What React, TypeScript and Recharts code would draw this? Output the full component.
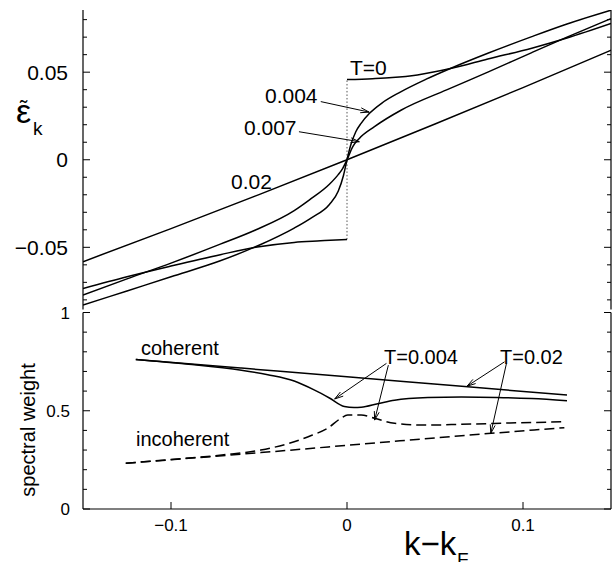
import React from 'react';
import { LineChart, Line, XAxis, YAxis, ReferenceLine } from 'recharts';

// ---------- axis ticks ----------
const xTicks = [-0.1, 0, 0.1];
const xTickLabels = ['\u22120.1', '0', '0.1'];
const topYTicks = [-0.08, -0.07, -0.06, -0.05, -0.04, -0.03, -0.02, -0.01, 0, 0.01, 0.02, 0.03, 0.04, 0.05, 0.06, 0.07, 0.08];
const topYMajor = [-0.05, 0, 0.05];
const topYLabels = ['\u22120.05', '0', '0.05'];
const botYTicks = [0, 0.1, 0.2, 0.3, 0.4, 0.5, 0.6, 0.7, 0.8, 0.9, 1];
const botYMajor = [0, 0.5, 1];
const botYLabels = ['0', '0.5', '1'];

// ---------- top panel: renormalised dispersion ----------
const t0LeftX = [-0.15, -0.125, -0.1, -0.072, -0.052, -0.03, -0.015, -0.0063, 0];
const t0LeftY = [-0.0735, -0.0668, -0.0607, -0.0542, -0.05, -0.0472, -0.0463, -0.0458, -0.0455];
const t0RightX = [0, 0.0145, 0.0257, 0.04, 0.0594, 0.08, 0.105, 0.125, 0.15];
const t0RightY = [0.0458, 0.0463, 0.0469, 0.0484, 0.0522, 0.0575, 0.0637, 0.0695, 0.0778];
const t004X = [-0.15, -0.125, -0.1, -0.072, -0.05, -0.03, -0.02, -0.01, -0.005, -0.002, 0, 0.002, 0.005, 0.008, 0.0128, 0.02, 0.03, 0.045, 0.0594, 0.08, 0.105, 0.125, 0.15];
const t004Y = [-0.083, -0.0749, -0.0668, -0.0577, -0.0488, -0.039, -0.033, -0.0255, -0.018, -0.009, 0, 0.008, 0.016, 0.0208, 0.0265, 0.0325, 0.0385, 0.046, 0.0524, 0.0608, 0.0703, 0.0775, 0.0854];
const t007X = [-0.15, -0.125, -0.1, -0.072, -0.052, -0.03, -0.0215, -0.01, -0.005, -0.0025, 0, 0.0033, 0.007, 0.0156, 0.0309, 0.0566, 0.08, 0.105, 0.125, 0.15];
const t007Y = [-0.0773, -0.068, -0.059, -0.0482, -0.0401, -0.029, -0.023, -0.014, -0.0085, -0.005, 0, 0.0075, 0.0122, 0.0189, 0.0284, 0.0399, 0.05, 0.0612, 0.07, 0.0806];
const t02X = [-0.15, -0.1, -0.05, 0, 0.05, 0.1, 0.15];
const t02Y = [-0.0582, -0.0393, -0.0199, 0, 0.0204, 0.0412, 0.0625];

// ---------- bottom panel: spectral weights ----------
const cohT02X = [-0.12, -0.06, 0, 0.06, 0.125];
const cohT02Y = [0.761, 0.717, 0.673, 0.628, 0.58];
const cohT004X = [-0.12, -0.09, -0.06, -0.045, -0.03, -0.0187, -0.01, -0.0015, 0.004, 0.008, 0.0175, 0.027, 0.046, 0.065, 0.085, 0.105, 0.125];
const cohT004Y = [0.761, 0.737, 0.706, 0.683, 0.651, 0.606, 0.565, 0.522, 0.517, 0.518, 0.536, 0.554, 0.567, 0.57, 0.568, 0.562, 0.551];
const incT004X = [-0.1257, -0.1, -0.07, -0.049, -0.03, -0.02, -0.011, -0.0034, 0.0004, 0.008, 0.0156, 0.027, 0.046, 0.065, 0.09, 0.1235];
const incT004Y = [0.233, 0.252, 0.276, 0.3, 0.342, 0.375, 0.411, 0.462, 0.478, 0.478, 0.462, 0.436, 0.427, 0.431, 0.437, 0.444];
const incT02X = [-0.1257, -0.049, 0.008, 0.065, 0.1235];
const incT02Y = [0.233, 0.287, 0.33, 0.373, 0.414];

const zip = (xs: number[], ys: number[]) => xs.map((x, i) => ({ x, y: ys[i] }));

const FONT = '"Liberation Sans", Arial, Helvetica, sans-serif';

type Orient = 'left' | 'right' | 'top' | 'bottom';
const makeTick = (orient: Orient, margin: number, majors: number[], labels: string[] | null, fs: number) =>
  (props: any) => {
    const { x, y, payload } = props;
    const v = payload.value;
    const mi = majors.findIndex((m) => Math.abs(m - v) < 1e-9);
    const len = mi >= 0 ? 7 : 4;
    let line: React.ReactNode = null;
    let text: React.ReactNode = null;
    if (orient === 'left') {
      const ax = x + margin;
      line = <line x1={ax} y1={y} x2={ax + len} y2={y} stroke="#000" strokeWidth={1} />;
      if (labels && mi >= 0)
        text = <text x={x} y={y + fs * 0.36} textAnchor="end" fontSize={fs} fontFamily={FONT} fill="#000">{labels[mi]}</text>;
    } else if (orient === 'right') {
      const ax = x - margin;
      line = <line x1={ax} y1={y} x2={ax - len} y2={y} stroke="#000" strokeWidth={1} />;
    } else if (orient === 'bottom') {
      const ay = y - margin;
      line = <line x1={x} y1={ay} x2={x} y2={ay - len} stroke="#000" strokeWidth={1} />;
      if (labels && mi >= 0)
        text = <text x={x} y={y} textAnchor="middle" fontSize={fs} fontFamily={FONT} fill="#000">{labels[mi]}</text>;
    } else {
      const ay = y + margin;
      line = <line x1={x} y1={ay} x2={x} y2={ay + len} stroke="#000" strokeWidth={1} />;
    }
    return <g>{line}{text}</g>;
  };

const Arrow = (props: any) => {
  const { x1, y1, x2, y2 } = props;
  const ang = Math.atan2(y2 - y1, x2 - x1);
  const L = 9;
  const a = 0.28;
  const p1 = `${x2 - L * Math.cos(ang - a)},${y2 - L * Math.sin(ang - a)}`;
  const p2 = `${x2 - L * Math.cos(ang + a)},${y2 - L * Math.sin(ang + a)}`;
  return (
    <g>
      <line x1={x1} y1={y1} x2={x2} y2={y2} stroke="#000" strokeWidth={1} />
      <polyline points={`${p1} ${x2},${y2} ${p2}`} fill="none" stroke="#000" strokeWidth={1} />
    </g>
  );
};

const axisLine = { stroke: '#000', strokeWidth: 1.2 };
const XDOM: [number, number] = [-0.15, 0.15];
const TOPDOM: [number, number] = [-0.0855, 0.0855];
const BOTDOM: [number, number] = [0, 1];

const lineProps = {
  type: 'monotone' as const,
  dataKey: 'y',
  stroke: '#000',
  strokeWidth: 1.5,
  dot: false,
  activeDot: false,
  isAnimationActive: false,
};

export default function App() {
  return (
    <div style={{ position: 'absolute', left: 0, top: 0, width: 612, height: 562, background: '#fff', fontFamily: FONT, overflow: 'hidden' }}>
      <div style={{ position: 'absolute', left: 0, top: 0 }}>
        <LineChart width={612} height={310} margin={{ top: 10, right: 0, bottom: 0.5, left: 0 }}>
          <XAxis xAxisId={0} type="number" dataKey="x" domain={XDOM} ticks={xTicks} allowDataOverflow height={0}
            axisLine={axisLine} tickLine={false} tickSize={0} tickMargin={0} interval={0}
            tick={makeTick('bottom', 0, xTicks, null, 17)} />
          <XAxis xAxisId="top" orientation="top" type="number" dataKey="x" domain={XDOM} ticks={xTicks} allowDataOverflow height={0}
            axisLine={axisLine} tickLine={false} tickSize={0} tickMargin={0} interval={0}
            tick={makeTick('top', 0, xTicks, null, 17)} />
          <YAxis yAxisId={0} type="number" domain={TOPDOM} ticks={topYTicks} allowDataOverflow width={83}
            axisLine={axisLine} tickLine={false} tickSize={0} tickMargin={15} interval={0}
            tick={makeTick('left', 15, topYMajor, topYLabels, 21)} />
          <YAxis yAxisId="r" orientation="right" type="number" domain={TOPDOM} ticks={topYTicks} allowDataOverflow width={1}
            axisLine={axisLine} tickLine={false} tickSize={0} tickMargin={0} interval={0}
            tick={makeTick('right', 0, topYMajor, null, 21)} />
          <ReferenceLine segment={[{ x: 0, y: -0.0455 }, { x: 0, y: 0.0458 }]} stroke="#555" strokeWidth={1} strokeDasharray="1.5 2" />
          <Line {...lineProps} data={zip(t02X, t02Y)} />
          <Line {...lineProps} data={zip(t0LeftX, t0LeftY)} />
          <Line {...lineProps} data={zip(t0RightX, t0RightY)} />
          <Line {...lineProps} data={zip(t004X, t004Y)} />
          <Line {...lineProps} data={zip(t007X, t007Y)} />
          <ReferenceLine segment={[{ x: -0.0149, y: 0.0332 }, { x: 0.0126, y: 0.0272 }]} shape={Arrow} />
          <ReferenceLine segment={[{ x: -0.0273, y: 0.016 }, { x: 0.007, y: 0.0103 }]} shape={Arrow} />
        </LineChart>
      </div>
      <div style={{ position: 'absolute', left: 0, top: 300 }}>
        <LineChart width={612} height={262} margin={{ top: 12.5, right: 0, bottom: 0, left: 0 }}>
          <XAxis xAxisId={0} type="number" dataKey="x" domain={XDOM} ticks={xTicks} allowDataOverflow height={53}
            axisLine={axisLine} tickLine={false} tickSize={0} tickMargin={21.5} interval={0}
            tick={makeTick('bottom', 21.5, xTicks, xTickLabels, 17)} />
          <XAxis xAxisId="top" orientation="top" type="number" dataKey="x" domain={XDOM} ticks={xTicks} allowDataOverflow height={0}
            axisLine={axisLine} tickLine={false} tickSize={0} tickMargin={0} interval={0}
            tick={makeTick('top', 0, xTicks, null, 17)} />
          <YAxis yAxisId={0} type="number" domain={BOTDOM} ticks={botYTicks} allowDataOverflow width={83}
            axisLine={axisLine} tickLine={false} tickSize={0} tickMargin={13} interval={0}
            tick={makeTick('left', 13, botYMajor, botYLabels, 17)} />
          <YAxis yAxisId="r" orientation="right" type="number" domain={BOTDOM} ticks={botYTicks} allowDataOverflow width={1}
            axisLine={axisLine} tickLine={false} tickSize={0} tickMargin={0} interval={0}
            tick={makeTick('right', 0, botYMajor, null, 17)} />
          <Line {...lineProps} data={zip(cohT02X, cohT02Y)} />
          <Line {...lineProps} data={zip(cohT004X, cohT004Y)} />
          <Line {...lineProps} data={zip(incT004X, incT004Y)} strokeDasharray="10 5" />
          <Line {...lineProps} data={zip(incT02X, incT02Y)} strokeDasharray="10 5" />
          <ReferenceLine segment={[{ x: 0.0224, y: 0.741 }, { x: -0.007, y: 0.56 }]} shape={Arrow} />
          <ReferenceLine segment={[{ x: 0.0235, y: 0.732 }, { x: 0.0157, y: 0.4525 }]} shape={Arrow} />
          <ReferenceLine segment={[{ x: 0.0895, y: 0.749 }, { x: 0.0682, y: 0.625 }]} shape={Arrow} />
          <ReferenceLine segment={[{ x: 0.0906, y: 0.741 }, { x: 0.0817, y: 0.385 }]} shape={Arrow} />
        </LineChart>
      </div>
      <svg width={612} height={562} style={{ position: 'absolute', left: 0, top: 0, pointerEvents: 'none' }} fontFamily={FONT}>
        {/* top panel annotations */}
        <text x={350} y={75} fontSize={21}>T=0</text>
        <text x={265} y={103} fontSize={21}>0.004</text>
        <text x={244} y={135} fontSize={21}>0.007</text>
        <text x={231} y={189} fontSize={21}>0.02</text>
        {/* y label top */}
        <text x={16} y={123} fontSize={34}>{'\u03b5'}</text>
        <text x={20} y={116} fontSize={22}>{'\u02dc'}</text>
        <text x={33} y={135} fontSize={19}>k</text>
        {/* bottom panel annotations */}
        <text x={141} y={355} fontSize={20}>coherent</text>
        <text x={136} y={446} fontSize={20}>incoherent</text>
        <text x={384} y={364} fontSize={20}>T=0.004</text>
        <text x={500} y={364} fontSize={20}>T=0.02</text>
        <text transform="translate(35,430) rotate(-90)" textAnchor="middle" fontSize={20}>spectral weight</text>
        {/* x label */}
        <text x={404} y={555} fontSize={33}>k{'\u2212'}k</text>
        <text x={457} y={566} fontSize={19}>F</text>
      </svg>
    </div>
  );
}
